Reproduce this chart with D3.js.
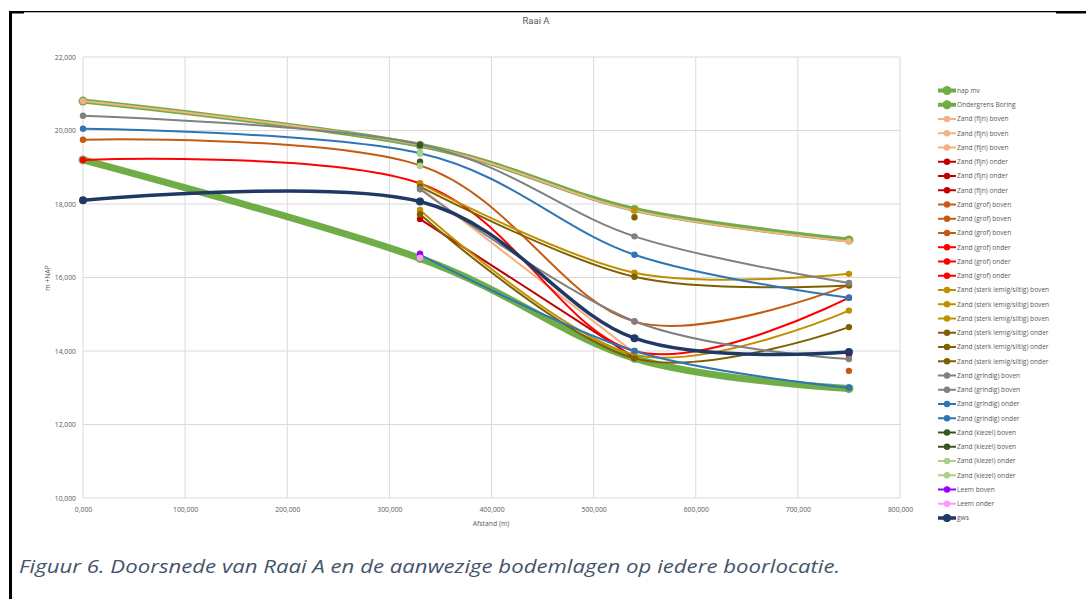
<!DOCTYPE html>
<html>
<head>
<meta charset="utf-8">
<script src="https://cdn.jsdelivr.net/npm/d3@7/dist/d3.min.js"></script>
<style>
  html, body { margin: 0; padding: 0; background: #ffffff; }
  svg { display: block; }
</style>
</head>
<body>
<svg id="chart" width="1086" height="599"></svg>
<script>
// Boring locations along the section (m)
const distances = [0, 330, 540, 750];

// Axis ticks
const xTicks = [0, 100, 200, 300, 400, 500, 600, 700, 800];
const yTicks = [10, 12, 14, 16, 18, 20, 22];

// Layer heights per boring (m +NAP), null where the layer is absent
const napMv            = [20.80, 19.60, 17.85, 17.02];
const ondergrensBoring = [19.20, 16.52, 13.80, 12.98];
const fijnBoven1  = [20.80, 19.60, 17.82, 16.98];
const fijnBoven2  = [null, 18.45, 13.95, null];
const fijnBoven3  = [null, null, null, null];
const fijnOnder1  = [null, 17.59, 13.82, null];
const fijnOnder2  = [null, null, null, null];
const fijnOnder3  = [null, null, null, null];
const grofBoven1  = [19.75, 19.05, 14.80, 15.80];
const grofBoven2  = [null, null, null, 13.46];
const grofBoven3  = [null, null, null, null];
const grofOnder1  = [19.20, 18.56, 14.00, 15.45];
const grofOnder2  = [null, null, null, 13.90];
const grofOnder3  = [null, null, null, null];
const sterkBoven1 = [null, 18.56, 16.13, 16.10];
const sterkBoven2 = [null, 17.84, 13.90, 15.10];
const sterkBoven3 = [null, null, 17.84, null];
const sterkOnder1 = [null, 18.47, 16.02, 15.78];
const sterkOnder2 = [null, 17.72, 13.80, 14.65];
const sterkOnder3 = [null, null, 17.64, null];
const grindigBoven1 = [20.40, 19.62, 17.12, 15.85];
const grindigBoven2 = [null, 18.40, 14.81, 13.78];
const grindigOnder1 = [20.05, 19.38, 16.62, 15.45];
const grindigOnder2 = [null, 16.62, 14.00, 13.00];
const kiezelBoven1 = [null, 19.60, null, null];
const kiezelBoven2 = [null, 19.15, null, null];
const kiezelOnder1 = [null, 19.38, null, null];
const kiezelOnder2 = [null, 19.04, null, null];
const leemBoven = [null, 16.65, null, null];
const leemOnder = [null, 16.54, null, null];
const gws       = [18.10, 18.07, 14.35, 13.97];

// Drawing style per layer type
const styles = {
  mv:          { color: "#70AD47", width: 5,   r: 4.5 },
  ondergrens:  { color: "#70AD47", width: 7,   r: 4.5 },
  fijnBoven:   { color: "#F4B183", width: 2,   r: 3.2 },
  fijnOnder:   { color: "#C00000", width: 2,   r: 3.2 },
  grofBoven:   { color: "#C55A11", width: 2,   r: 3.2 },
  grofOnder:   { color: "#FF0000", width: 2,   r: 3.2 },
  sterkBoven:  { color: "#BF9000", width: 2,   r: 3.2 },
  sterkOnder:  { color: "#7F6000", width: 2,   r: 3.2 },
  grindigBoven:{ color: "#808080", width: 2,   r: 3.2 },
  grindigOnder:{ color: "#2E75B6", width: 2,   r: 3.2 },
  kiezelBoven: { color: "#375623", width: 2,   r: 3.2 },
  kiezelOnder: { color: "#A9D18E", width: 2,   r: 3.2 },
  leemBoven:   { color: "#9B00FF", width: 2,   r: 3.2 },
  leemOnder:   { color: "#FF99FF", width: 2,   r: 3.2 },
  gws:         { color: "#1F3864", width: 3.5, r: 4 }
};

const series = [
  { name: "nap mv", values: napMv, style: "mv" },
  { name: "Ondergrens Boring", values: ondergrensBoring, style: "ondergrens" },
  { name: "Zand (fijn) boven", values: fijnBoven1, style: "fijnBoven" },
  { name: "Zand (fijn) boven", values: fijnBoven2, style: "fijnBoven" },
  { name: "Zand (fijn) boven", values: fijnBoven3, style: "fijnBoven" },
  { name: "Zand (fijn) onder", values: fijnOnder1, style: "fijnOnder" },
  { name: "Zand (fijn) onder", values: fijnOnder2, style: "fijnOnder" },
  { name: "Zand (fijn) onder", values: fijnOnder3, style: "fijnOnder" },
  { name: "Zand (grof) boven", values: grofBoven1, style: "grofBoven" },
  { name: "Zand (grof) boven", values: grofBoven2, style: "grofBoven" },
  { name: "Zand (grof) boven", values: grofBoven3, style: "grofBoven" },
  { name: "Zand (grof) onder", values: grofOnder1, style: "grofOnder" },
  { name: "Zand (grof) onder", values: grofOnder2, style: "grofOnder" },
  { name: "Zand (grof) onder", values: grofOnder3, style: "grofOnder" },
  { name: "Zand (sterk lemig/siltig) boven", values: sterkBoven1, style: "sterkBoven" },
  { name: "Zand (sterk lemig/siltig) boven", values: sterkBoven2, style: "sterkBoven" },
  { name: "Zand (sterk lemig/siltig) boven", values: sterkBoven3, style: "sterkBoven" },
  { name: "Zand (sterk lemig/siltig) onder", values: sterkOnder1, style: "sterkOnder" },
  { name: "Zand (sterk lemig/siltig) onder", values: sterkOnder2, style: "sterkOnder" },
  { name: "Zand (sterk lemig/siltig) onder", values: sterkOnder3, style: "sterkOnder" },
  { name: "Zand (grindig) boven", values: grindigBoven1, style: "grindigBoven" },
  { name: "Zand (grindig) boven", values: grindigBoven2, style: "grindigBoven" },
  { name: "Zand (grindig) onder", values: grindigOnder1, style: "grindigOnder" },
  { name: "Zand (grindig) onder", values: grindigOnder2, style: "grindigOnder" },
  { name: "Zand (kiezel) boven", values: kiezelBoven1, style: "kiezelBoven" },
  { name: "Zand (kiezel) boven", values: kiezelBoven2, style: "kiezelBoven" },
  { name: "Zand (kiezel) onder", values: kiezelOnder1, style: "kiezelOnder" },
  { name: "Zand (kiezel) onder", values: kiezelOnder2, style: "kiezelOnder" },
  { name: "Leem boven", values: leemBoven, style: "leemBoven" },
  { name: "Leem onder", values: leemOnder, style: "leemOnder" },
  { name: "gws", values: gws, style: "gws" }
];

const nl = d3.formatLocale({ decimal: ",", thousands: ".", grouping: [3], currency: ["€", ""] });
const fmt = nl.format(".3f");

const svg = d3.select("#chart");
const textGray = "#595959";
const gridGray = "#D9D9D9";
const smallFont = "'Open Sans', Lato, sans-serif";

// Frame around the figure
svg.append("rect").attr("x", 9).attr("y", 11).attr("width", 3).attr("height", 588).attr("fill", "#000");
svg.append("rect").attr("x", 9).attr("y", 11).attr("width", 1047).attr("height", 1.3).attr("fill", "#000");
svg.append("rect").attr("x", 9).attr("y", 11).attr("width", 15).attr("height", 2.5).attr("fill", "#000");
svg.append("rect").attr("x", 1056).attr("y", 11).attr("width", 30).attr("height", 2.5).attr("fill", "#000");

const x = d3.scaleLinear().domain([0, 800]).range([83, 900]);
const y = d3.scaleLinear().domain([10, 22]).range([498, 57]);

// Gridlines
const grid = svg.append("g");
grid.selectAll("line.v").data(xTicks).join("line")
  .attr("x1", d => x(d)).attr("x2", d => x(d))
  .attr("y1", y(22)).attr("y2", y(10))
  .attr("stroke", gridGray).attr("stroke-width", 1);
grid.selectAll("line.h").data(yTicks).join("line")
  .attr("x1", x(0)).attr("x2", x(800))
  .attr("y1", d => y(d)).attr("y2", d => y(d))
  .attr("stroke", gridGray).attr("stroke-width", 1);

// Axes (labels only, lines drawn by the grid)
const xAxis = d3.axisBottom(x).tickValues(xTicks).tickFormat(fmt).tickSize(0).tickPadding(9);
const gx = svg.append("g").attr("transform", `translate(0,${y(10)})`).call(xAxis);
gx.select(".domain").remove();
gx.selectAll("text").attr("fill", textGray).attr("font-family", smallFont).attr("font-size", 6.8);

const yAxis = d3.axisLeft(y).tickValues(yTicks).tickFormat(fmt).tickSize(0).tickPadding(7);
const gy = svg.append("g").attr("transform", `translate(${x(0)},0)`).call(yAxis);
gy.select(".domain").remove();
gy.selectAll("text").attr("fill", textGray).attr("font-family", smallFont).attr("font-size", 6.8);

// Titles
svg.append("text").attr("x", 536).attr("y", 24).attr("text-anchor", "middle")
  .attr("fill", textGray).attr("font-family", "'Liberation Sans Narrow', 'Roboto', sans-serif").attr("font-size", 9.5)
  .text("Raai A");
svg.append("text").attr("x", 491).attr("y", 526).attr("text-anchor", "middle")
  .attr("fill", textGray).attr("font-family", smallFont).attr("font-size", 6.8)
  .text("Afstand (m)");
svg.append("text").attr("transform", "translate(50,278) rotate(-90)").attr("text-anchor", "middle")
  .attr("fill", textGray).attr("font-family", smallFont).attr("font-size", 6.8)
  .text("m +NAP");

// Series lines and markers
const line = d3.line()
  .defined(d => d.v != null)
  .x(d => x(d.x))
  .y(d => y(d.v))
  .curve(d3.curveCardinal.tension(0));

const plot = svg.append("g");
series.forEach(s => {
  const st = styles[s.style];
  const pts = s.values.map((v, i) => ({ x: distances[i], v }));
  const g = plot.append("g");
  g.append("path").datum(pts)
    .attr("d", line)
    .attr("fill", "none")
    .attr("stroke", st.color)
    .attr("stroke-width", st.width)
    .attr("stroke-linejoin", "round")
    .attr("stroke-linecap", "round");
  g.selectAll("circle").data(pts.filter(d => d.v != null)).join("circle")
    .attr("cx", d => x(d.x)).attr("cy", d => y(d.v))
    .attr("r", st.r).attr("fill", st.color);
});

// Legend
const legend = svg.append("g");
series.forEach((s, i) => {
  const st = styles[s.style];
  const ly = 90.5 + i * 14.25;
  legend.append("line").attr("x1", 938).attr("x2", 956).attr("y1", ly).attr("y2", ly)
    .attr("stroke", st.color).attr("stroke-width", Math.min(st.width, 4));
  legend.append("circle").attr("cx", 947).attr("cy", ly).attr("r", st.r).attr("fill", st.color);
  legend.append("text").attr("x", 957).attr("y", ly).attr("dy", "0.35em")
    .attr("fill", textGray).attr("font-family", smallFont).attr("font-size", 6.6)
    .text(s.name);
});

// Figure caption
svg.append("text").attr("x", 19).attr("y", 573)
  .attr("fill", "#44546A").attr("font-family", "'Open Sans', Lato, sans-serif")
  .attr("font-style", "italic").attr("font-size", 19)
  .attr("textLength", 821).attr("lengthAdjust", "spacingAndGlyphs")
  .text("Figuur 6. Doorsnede van Raai A en de aanwezige bodemlagen op iedere boorlocatie.");
</script>
</body>
</html>
